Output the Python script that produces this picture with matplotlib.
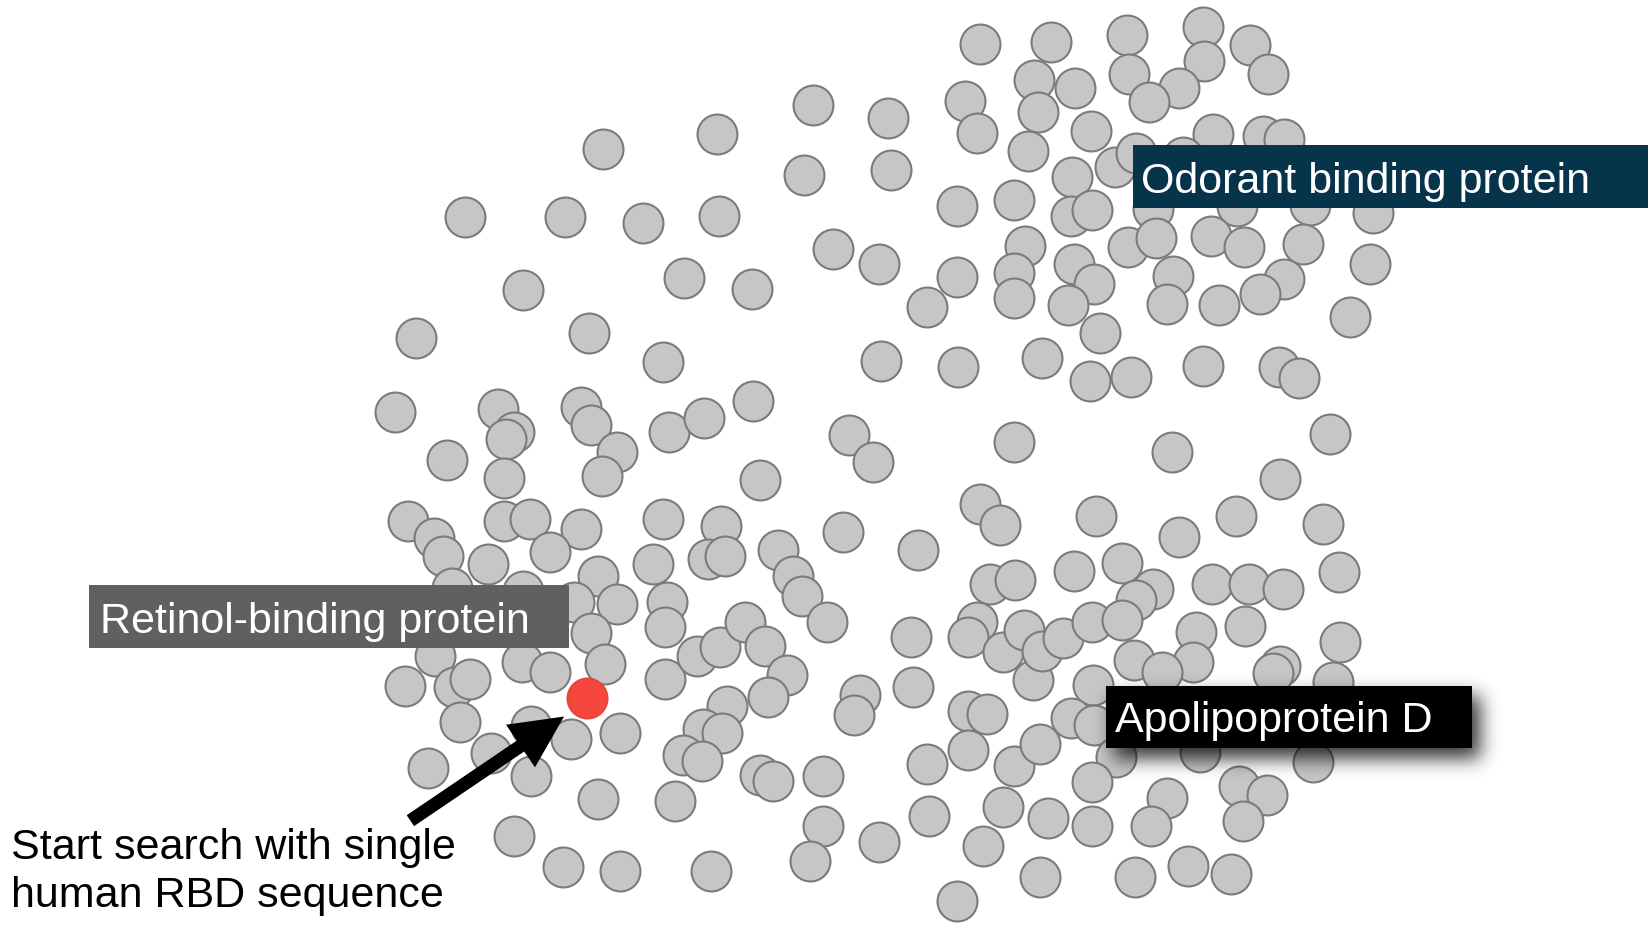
import numpy as np
import matplotlib
matplotlib.use("Agg")
import matplotlib.pyplot as plt
from matplotlib.patches import Rectangle, FancyArrow

# 2-D sequence-space embedding (embedding units, y grows downward)
# Odorant-binding-protein side (upper right)
obp_xy = [
    (931, 43), (999, 41), (1071, 34), (1143, 27), (1144, 59), (1188, 44),
    (1205, 71), (1073, 71), (1120, 85), (1092, 98), (983, 77), (1022, 85),
    (986, 107), (977, 144), (917, 97), (928, 127), (844, 113), (847, 163),
    (1037, 125), (1060, 160), (1080, 146), (1153, 128), (1200, 130),
    (1220, 133), (1124, 150), (1019, 169), (909, 197), (964, 191), (1018, 206),
    (1038, 201), (1096, 200), (1176, 197), (1245, 196), (1305, 203),
    (1072, 236), (1099, 227), (1151, 225), (1182, 236), (1238, 233),
    (1220, 266), (1197, 280), (1158, 291), (1115, 263), (1109, 290),
    (974, 235), (964, 260), (964, 284), (1021, 252), (1040, 271),
    (1015, 291), (1045, 317), (909, 264), (881, 293), (835, 252), (792, 238),
    (837, 344), (910, 350), (990, 341), (1036, 363), (1075, 359),
    (1143, 349), (1215, 350), (1234, 360), (1302, 252), (1283, 302),
    (764, 167), (773, 101),
]

# Retinol-binding-protein side (left)
rbp_xy = [
    (573, 143), (681, 128), (442, 207), (537, 207), (611, 213), (683, 206),
    (497, 277), (650, 265), (715, 276), (395, 322), (560, 317), (630, 345),
    (375, 393), (473, 390), (488, 412), (481, 418), (425, 438), (479, 455),
    (552, 388), (562, 405), (586, 431), (572, 453), (636, 412), (669, 398),
    (716, 382), (722, 457), (807, 414), (830, 440),
    (388, 496), (412, 512), (421, 529), (479, 496), (504, 494), (552, 504),
    (523, 526), (464, 537), (630, 494), (685, 501), (673, 532), (689, 529),
    (621, 537), (739, 524), (754, 548), (762, 567), (786, 592), (801, 507),
    (497, 563), (430, 560), (410, 590), (568, 548), (545, 573), (586, 575),
    (562, 603), (634, 573), (632, 597), (575, 632), (496, 630), (523, 640),
    (413, 624), (385, 653), (431, 654), (447, 646), (632, 646), (662, 624),
    (684, 616), (708, 592), (727, 615), (748, 643), (730, 663), (691, 672),
    (437, 687), (505, 691), (543, 703), (589, 698), (467, 717), (407, 731),
    (505, 739), (668, 694), (686, 698), (649, 719), (667, 724), (568, 760),
    (641, 762), (722, 738), (735, 743), (782, 739), (782, 786), (770, 819),
    (488, 796), (535, 825), (589, 829), (676, 829), (817, 662), (812, 681),
]

# Apolipoprotein D side (lower right)
apod_xy = [
    (964, 421), (1114, 431), (1264, 413), (1216, 456), (931, 480), (950, 500),
    (872, 524), (1042, 491), (1120, 511), (1175, 491), (1257, 499),
    (1272, 545), (941, 556), (965, 552), (1021, 544), (1066, 536),
    (1096, 561), (1080, 571), (1152, 556), (1187, 556), (1219, 561),
    (1183, 596), (1273, 611), (1267, 649), (1216, 634), (1210, 641),
    (866, 606), (868, 654), (928, 592), (920, 606), (953, 621), (973, 600),
    (982, 647), (990, 620), (1010, 607), (1038, 592), (1066, 590),
    (1137, 602), (1134, 630), (1078, 628), (1104, 640), (1039, 652),
    (1018, 683), (1040, 690), (1061, 720), (1140, 716), (1248, 725),
    (920, 677), (938, 680), (881, 727), (920, 714), (964, 729), (988, 708),
    (1038, 744), (953, 768), (996, 778), (1038, 786), (1109, 759),
    (1094, 786), (1177, 748), (1204, 757), (1181, 781), (883, 777),
    (835, 801), (934, 805), (988, 835), (1079, 835), (1129, 824),
    (1170, 832), (909, 857),
]

# Starting query sequence
query_xy = [(558, 664)]

W, H = 1568, 883

fig = plt.figure(figsize=(16.5, 9.29), dpi=100)
ax = fig.add_axes([0, 0, 1, 1])
ax.set_xlim(0, W)
ax.set_ylim(H, 0)
ax.axis("off")

pts = rbp_xy + obp_xy + apod_xy
xs, ys = zip(*pts)
ax.scatter(xs, ys, s=826, c="#c6c6c6", edgecolors="#7b7b7b",
           linewidths=1.5, zorder=2)
qx, qy = zip(*query_xy)
ax.scatter(qx, qy, s=826, c="#f5473c", edgecolors="#e4473d",
           linewidths=1.5, zorder=3)

FONT = ["Liberation Sans", "DejaVu Sans"]


def label_box(x0, y0, x1, y1, color, text, tx, ty):
    ax.add_patch(Rectangle((x0, y0), x1 - x0, y1 - y0, facecolor=color,
                           edgecolor="none", zorder=6))
    ax.text(tx, ty, text, color="white", fontsize=31, family=FONT,
            ha="left", va="baseline", zorder=7)


def soft_shadow(x0, y0, x1, y1, dx, dy, sigma, alpha):
    pad = 4 * sigma
    gx = np.arange(x0 + dx - pad, x1 + dx + pad, 1.0)
    gy = np.arange(y0 + dy - pad, y1 + dy + pad, 1.0)
    mx = ((gx >= x0 + dx) & (gx <= x1 + dx)).astype(float)
    my = ((gy >= y0 + dy) & (gy <= y1 + dy)).astype(float)
    k = np.arange(-3 * sigma, 3 * sigma + 1)
    ker = np.exp(-0.5 * (k / sigma) ** 2)
    ker /= ker.sum()
    bx = np.convolve(mx, ker, mode="same")
    by = np.convolve(my, ker, mode="same")
    a = np.outer(by, bx) * alpha
    img = np.zeros(a.shape + (4,))
    img[..., 3] = a
    ax.imshow(img, extent=(gx[0], gx[-1], gy[-1], gy[0]), origin="upper",
              aspect="auto", interpolation="bilinear", zorder=5)


label_box(1077, 139, 1566, 199, "#06344a", "Odorant binding protein",
          1084, 183.5)
label_box(85, 557, 541, 617, "#606060", "Retinol-binding protein",
          95, 601.5)
soft_shadow(1051, 653, 1399, 712, 8, 10, 9, 0.8)
label_box(1051, 653, 1399, 712, "#000000", "Apolipoprotein D",
          1060, 696)

ax.add_patch(FancyArrow(390, 781, 146, -99, width=12.5, head_width=49,
                        head_length=50, length_includes_head=True,
                        facecolor="black", edgecolor="none", zorder=8))

ax.text(10, 816, "Start search with single", fontsize=31, family=FONT,
        color="black", ha="left", va="baseline", zorder=8)
ax.text(10, 862, "human RBD sequence", fontsize=31, family=FONT,
        color="black", ha="left", va="baseline", zorder=8)

ax.set_xlim(0, W)
ax.set_ylim(H, 0)
fig.savefig("out.png", dpi=100, facecolor="white")
